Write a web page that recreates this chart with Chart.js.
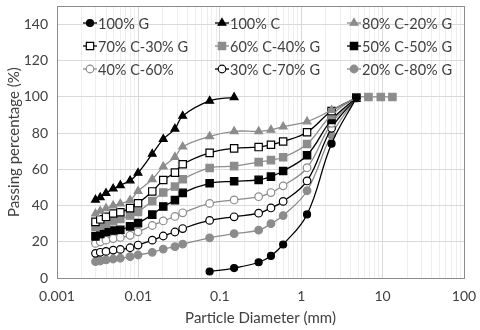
<!DOCTYPE html>
<html>
<head>
<meta charset="utf-8">
<script src="https://cdn.jsdelivr.net/npm/chart.js"></script>
<style>
  body { margin: 0; background: #fff; }
  #wrap { width: 480px; height: 330px; }
</style>
</head>
<body>
<div id="wrap"><canvas id="gradChart" width="480" height="330"></canvas></div>
<script>
// particle sizes (mm)
const hydroSizes = [0.00297, 0.0034, 0.0040, 0.0049, 0.0060, 0.0079, 0.0099, 0.0148, 0.0202, 0.0281, 0.0350];
const sieveSizes = [0.075, 0.15, 0.3, 0.425, 0.6, 1.18, 2.36, 4.75];
const coarseSizes = [6.7, 9.5, 13.2];

const seriesNames = ['100% G', '100% C', '80% C-20% G', '70% C-30% G', '60% C-40% G',
    '50% C-50% G', '40% C-60%', '30% C-70% G', '20% C-80% G'];

// passing percentage (%)
const g100 = [3.6, 5.5, 8.7, 12.2, 18.5, 35.1, 74.2, 99.5];
const c100 = [43.2, 44.5, 46.8, 49.3, 51.2, 53.8, 58, 68.5, 76.7, 82.4, 89.5, 97.8, 99.8];
const c80 = [35.5, 37, 38.5, 40, 41, 43, 48, 54.5, 61.5, 66.8, 72.5, 78.2, 81, 81, 81.8, 83.6, 86.4, 92.7, 99.5];
const c70 = [31, 32.4, 33.8, 35.6, 36.3, 38.6, 41.3, 47.8, 54.1, 58.2, 62.8, 69.1, 71.6, 72.3, 73.6, 75.4, 80.5, 92.2, 99.5];
const c60 = [28, 29, 30, 31.4, 32.6, 34.5, 36.5, 42.5, 47.2, 50.5, 54.5, 60.8, 61.8, 64, 65.1, 66.7, 74, 90, 99.5];
const c60Coarse = [100, 100, 100];
const c50 = [23, 24.3, 25.4, 26.2, 26.6, 28.5, 30.3, 35, 39.5, 43, 47, 52.3, 53.4, 54.2, 56, 59.1, 67.8, 87.3, 99.5];
const c40 = [19.1, 20, 20.9, 21.8, 22.4, 23.6, 25.5, 29, 31.5, 34, 36, 41.2, 43.1, 44.9, 47.2, 50.9, 60.9, 85.4, 99.5];
const c30 = [13.6, 14.2, 14.7, 15.4, 15.8, 16.7, 18.2, 20.9, 23.2, 25.4, 27.3, 31.8, 33.8, 35.8, 38.7, 42.3, 53.6, 82.7, 99.5];
const c20 = [9.1, 9.4, 10, 10.5, 10.9, 11.8, 12.7, 14.2, 16, 17.3, 18.7, 22.2, 24.5, 26.4, 30, 34.5, 48.2, 79.1, 99.5];

const yTickValues = [0, 20, 40, 60, 80, 100, 120, 140];
const xTickLabels = ['0.001', '0.01', '0.1', '1', '10', '100'];

const BLACK = '#000000';
const GREY = '#8c8c8c';
const FONT = 'Lato, "Open Sans", sans-serif';

function pts(sizes, values) {
    return values.map((v, i) => ({ x: sizes[i], y: v }));
}

const mixSizes = hydroSizes.concat(sieveSizes);

function series(label, data, color, style, fill, radius) {
    return {
        label: label,
        data: data,
        borderColor: color,
        backgroundColor: color,
        borderWidth: 1.3,
        pointStyle: style,
        pointRadius: radius,
        pointBackgroundColor: fill,
        pointBorderColor: color,
        pointBorderWidth: 1.2,
        tension: 0.4,
        fill: false
    };
}

const datasets = [
    series(seriesNames[0], pts(sieveSizes, g100), BLACK, 'circle', BLACK, 3.5),
    series(seriesNames[1], pts(hydroSizes.concat([0.075, 0.15]), c100), BLACK, 'triangle', BLACK, 4.5),
    series(seriesNames[2], pts(mixSizes, c80), GREY, 'triangle', GREY, 4.5),
    series(seriesNames[3], pts(mixSizes, c70), BLACK, 'rect', '#ffffff', 5.2),
    series(seriesNames[4], pts(mixSizes, c60).concat(pts(coarseSizes, c60Coarse)), GREY, 'rect', GREY, 5.2),
    series(seriesNames[5], pts(mixSizes, c50), BLACK, 'rect', BLACK, 5.2),
    series(seriesNames[6], pts(mixSizes, c40), GREY, 'circle', '#ffffff', 3.8),
    series(seriesNames[7], pts(mixSizes, c30), BLACK, 'circle', '#ffffff', 3.8),
    series(seriesNames[8], pts(mixSizes, c20), GREY, 'circle', GREY, 3.8)
];

// legend drawn inside the plot area, three columns
const insideLegend = {
    id: 'insideLegend',
    afterDraw(chart) {
        const ctx = chart.ctx;
        const colX = [83, 215, 347];
        const rowY = [23, 46, 69];
        ctx.save();
        chart.data.datasets.forEach((ds, i) => {
            const x = colX[i % 3];
            const y = rowY[Math.floor(i / 3)];
            ctx.strokeStyle = ds.borderColor;
            ctx.lineWidth = 1.3;
            ctx.beginPath();
            ctx.moveTo(x, y);
            ctx.lineTo(x + 14, y);
            ctx.stroke();
            ctx.fillStyle = ds.pointBackgroundColor;
            ctx.strokeStyle = ds.pointBorderColor;
            ctx.lineWidth = 1.2;
            Chart.helpers.drawPoint(ctx, {
                pointStyle: ds.pointStyle, radius: ds.pointRadius, rotation: 0, borderWidth: 1.2
            }, x + 7, y);
            ctx.fillStyle = '#404040';
            ctx.font = '14.5px ' + FONT;
            ctx.textBaseline = 'middle';
            ctx.textAlign = 'left';
            ctx.fillText(ds.label, x + 15, y + 1);
        });
        // plot frame
        const a = chart.chartArea;
        ctx.strokeStyle = '#8c8c8c';
        ctx.lineWidth = 1;
        ctx.strokeRect(Math.round(a.left) + 0.5, Math.round(a.top) + 0.5,
            Math.round(a.right - a.left), Math.round(a.bottom - a.top));
        ctx.restore();
    }
};

function isDecade(v) {
    const l = Math.log10(v);
    return Math.abs(l - Math.round(l)) < 1e-9;
}

new Chart(document.getElementById('gradChart').getContext('2d'), {
    type: 'line',
    data: { datasets: datasets },
    options: {
        responsive: false,
        animation: false,
        devicePixelRatio: 1,
        layout: { padding: { top: 4, right: 16, left: 0, bottom: 0 } },
        plugins: {
            legend: { display: false },
            tooltip: { enabled: false }
        },
        scales: {
            x: {
                type: 'logarithmic',
                min: 0.001,
                max: 100,
                afterBuildTicks(scale) {
                    const t = [];
                    for (let e = -3; e <= 1; e++) {
                        for (let m = 1; m <= 9; m++) t.push({ value: m * Math.pow(10, e) });
                    }
                    t.push({ value: 100 });
                    scale.ticks = t;
                },
                afterFit(scale) {
                    scale.height = 52;
                    scale.paddingLeft = 0;
                    scale.paddingRight = 0;
                },
                ticks: {
                    autoSkip: false,
                    maxRotation: 0,
                    padding: 10,
                    color: '#404040',
                    font: { size: 14, family: FONT },
                    callback(v) {
                        if (!isDecade(v)) return '';
                        return xTickLabels[Math.round(Math.log10(v)) + 3];
                    }
                },
                grid: {
                    drawTicks: false,
                    color(ctx) {
                        return isDecade(ctx.tick.value) ? '#d9d9d9' : '#eeeeee';
                    }
                },
                border: { color: '#8c8c8c' },
                title: {
                    display: true,
                    text: 'Particle Diameter (mm)',
                    color: '#404040',
                    font: { size: 15, family: FONT },
                    padding: { top: 0, bottom: 3 }
                }
            },
            y: {
                min: 0,
                max: 150,
                afterBuildTicks(scale) {
                    scale.ticks = yTickValues.map(v => ({ value: v }));
                },
                afterFit(scale) {
                    scale.width = 57;
                    scale.paddingTop = 0;
                    scale.paddingBottom = 0;
                },
                ticks: {
                    padding: 9,
                    color: '#404040',
                    font: { size: 14, family: FONT }
                },
                grid: { drawTicks: false, color: '#d9d9d9' },
                border: { color: '#8c8c8c' },
                title: {
                    display: true,
                    text: 'Passing percentage (%)',
                    color: '#404040',
                    font: { size: 15, family: FONT },
                    padding: { top: 5, bottom: 4 }
                }
            }
        }
    },
    plugins: [insideLegend]
});
</script>
</body>
</html>
